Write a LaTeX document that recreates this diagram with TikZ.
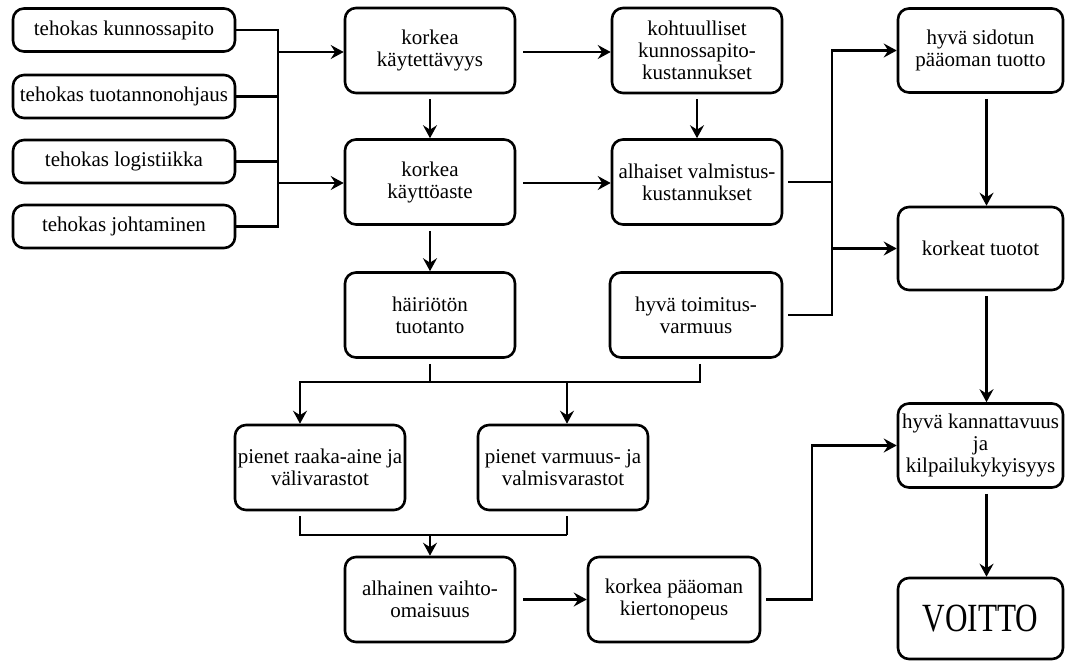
\documentclass[tikz,border=0pt]{standalone}
\usepackage{fontspec}
\usepackage{graphicx}
\setmainfont{Liberation Serif}
\usetikzlibrary{arrows.meta}

\newcommand\boxfont{\fontsize{21}{22}\selectfont}
\newcommand\bigfont{\fontsize{40}{44}\selectfont}

\begin{document}
\begin{tikzpicture}[x=1pt,y=-1pt,
  box/.style={draw, line width=2.6pt, rounded corners=11pt, align=center,
    inner sep=0.5pt, font=\boxfont},
  cause/.style={box, minimum width=222pt, minimum height=43pt},
  stepbox/.style={box, minimum width=170pt, minimum height=85pt},
  goal/.style={box, minimum width=165pt, minimum height=84pt},
  wire/.style={line width=2.6pt},
  flow/.style={wire, -{Stealth[length=13pt,width=14pt,inset=4.5pt]}},
  gap/.style={shorten <=5pt},
]
\useasboundingbox (0,0) rectangle (1067,664);

% causes on the left
\node[cause] (L1) at (124,30)    {tehokas kunnossapito};
\node[cause] (L2) at (124,96.5)  {tehokas tuotannonohjaus};
\node[cause] (L3) at (124,161.5) {tehokas logistiikka};
\node[cause] (L4) at (124,226.5) {tehokas johtaminen};

% middle chain
\node[stepbox] (A) at (430,50.5) {korkea\\käytettävyys};
\node[stepbox] (B) at (430,182)  {korkea\\käyttöaste};
\node[stepbox] (C) at (430,315)  {häiriötön\\tuotanto};
\node[stepbox] (D) at (697,50.5) {kohtuulliset\\kunnossapito-\\kustannukset};
\node[stepbox] (E) at (697,182)  {alhaiset valmistus-\\kustannukset};
\node[stepbox, minimum width=172pt] (F) at (696,315) {hyvä toimitus-\\varmuus};

% inventories and capital
\node[stepbox] (K) at (320,467.5) {pienet raaka-aine ja\\välivarastot};
\node[stepbox] (L) at (563,467.5) {pienet varmuus- ja\\valmisvarastot};
\node[stepbox] (M) at (430,599.5) {alhainen vaihto-\\omaisuus};
\node[stepbox, minimum width=172pt] (N) at (674,599.5) {korkea pääoman\\kiertonopeus};

% results on the right
\node[goal] (G) at (980.5,50.5)  {hyvä sidotun\\pääoman tuotto};
\node[goal, minimum height=83pt] (H) at (980.5,248.5) {korkeat tuotot};
\node[goal] (I) at (980.5,445.5) {hyvä kannattavuus\\ja\\kilpailukykyisyys};
\node[goal, minimum height=81pt] (J) at (980.5,618.5) {\bigfont\scalebox{0.78}[1]{VOITTO}};

% junction columns and rows
\coordinate (lj) at (278,0);
\coordinate (rj) at (832,0);
\coordinate (nj) at (812,0);
\coordinate (mid) at (0,382);
\coordinate (low) at (0,535);
\coordinate (ka) at ([xshift=-20pt]K.north);
\coordinate (kb) at ([xshift=-20pt]K.south);
\coordinate (la) at ([xshift=4pt]L.north);
\coordinate (lb) at ([xshift=4pt]L.south);

% causes feed availability and utilisation
\draw[wire] (L1.east) -- (L1.east -| lj) -- (L4.east -| lj) -- (L4.east);
\draw[wire] (L2.east) -- (L2.east -| lj);
\draw[wire] (L3.east) -- (L3.east -| lj);
\draw[flow] ([yshift=-1.5pt]A.west -| lj) -- ([yshift=-1.5pt]A.west);
\draw[flow] ([yshift=-1pt]B.west -| lj) -- ([yshift=-1pt]B.west);

% middle chain
\draw[flow,gap] (A.south) -- (B.north);
\draw[flow,gap] (B.south) -- (C.north);
\draw[flow,shorten <=7pt] ([yshift=-1.5pt]A.east) -- ([yshift=-1.5pt]D.west);
\draw[flow,shorten <=7pt] ([yshift=-1pt]B.east) -- ([yshift=-1pt]E.west);
\draw[flow,gap] (D.south) -- (E.north);

% costs and delivery to returns
\draw[wire,gap] (E.east) -- (E.east -| rj);
\draw[flow,gap] (F.east) -- (F.east -| rj) |- (G.west);
\draw[flow] (H.west -| rj) -- (H.west);

% returns to profit
\draw[flow,gap] ([xshift=6pt]G.south) -- ([xshift=6pt]H.north);
\draw[flow,gap] ([xshift=6pt]H.south) -- ([xshift=6pt]I.north);
\draw[flow,gap] ([xshift=6pt]I.south) -- ([xshift=6pt]J.north);

% production and delivery to inventories
\draw[wire,gap] (C.south) -- (C.south |- mid);
\draw[flow,gap] ([xshift=4pt]F.south) -- ([xshift=4pt]F.south |- mid) -- (ka |- mid) -- (ka);
\draw[flow] (la |- mid) -- (la);

% inventories to current assets
\draw[wire,gap] (kb) -- (kb |- low) -- (lb |- low);
\draw[wire,gap] (lb) -- (lb |- low);
\draw[flow] (M.north |- low) -- (M.north);

% capital turnover to profitability
\draw[flow,shorten <=7pt] (M.east) -- (N.west);
\draw[flow,gap] (N.east) -- (N.east -| nj) |- (I.west);
\end{tikzpicture}
\end{document}
